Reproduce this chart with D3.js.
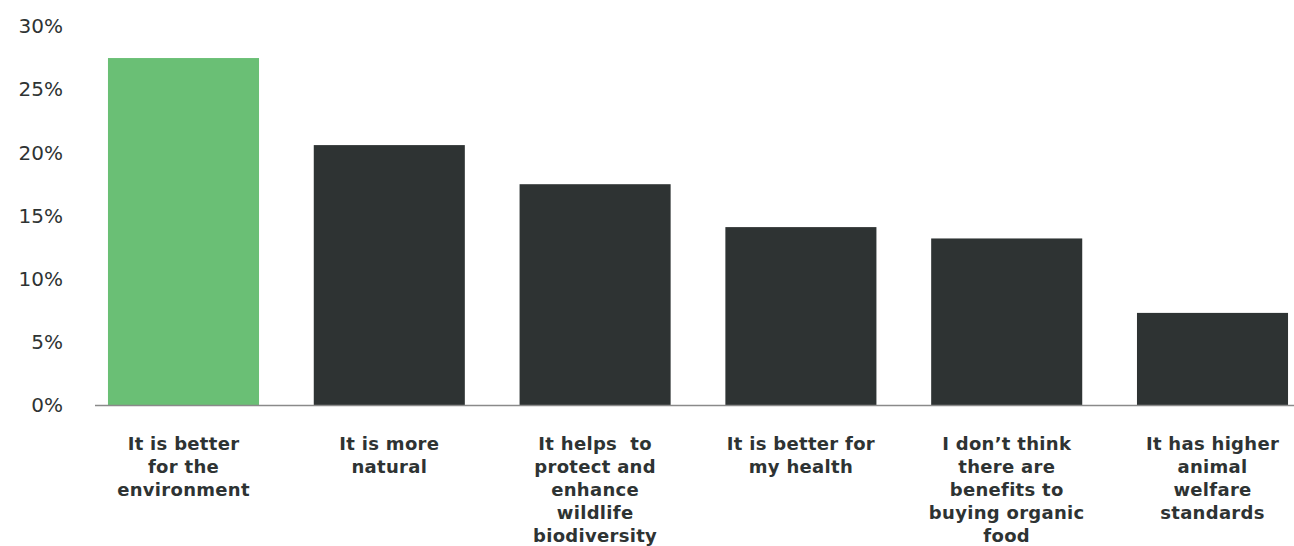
<!DOCTYPE html>
<html>
<head>
<meta charset="utf-8">
<script src="https://cdn.jsdelivr.net/npm/d3@7"></script>
<style>
  html, body { margin: 0; padding: 0; background: #ffffff; }
  svg { display: block; }
  .tick-label { font-family: "DejaVu Sans", sans-serif; font-size: 20px; fill: #2e3333; }
  .cat-label { font-family: "DejaVu Sans", sans-serif; font-size: 18px; font-weight: 700; fill: #2e3333; letter-spacing: 0.3px; white-space: pre; }
</style>
</head>
<body>
<svg id="chart" width="1294" height="546"></svg>
<script>
// Reasons for buying organic food (share of respondents)
const categories = [
  "It is better for the environment",
  "It is more natural",
  "It helps to protect and enhance wildlife biodiversity",
  "It is better for my health",
  "I don’t think there are benefits to buying organic food",
  "It has higher animal welfare standards"
];
const labelLines = [
  ["It is better", "for the", "environment"],
  ["It is more", "natural"],
  ["It helps  to", "protect and", "enhance", "wildlife", "biodiversity"],
  ["It is better for", "my health"],
  ["I don’t think", "there are", "benefits to", "buying organic", "food"],
  ["It has higher", "animal", "welfare", "standards"]
];
const values = [27.5, 20.6, 17.5, 14.1, 13.2, 7.3];
const yTicks = [0, 5, 10, 15, 20, 25, 30];
const highlight = categories[0];

const svg = d3.select("#chart");

const x = d3.scaleBand()
  .domain(categories)
  .range([80.6, 1315.4])
  .paddingInner(0.266)
  .paddingOuter(0.133);

const y = d3.scaleLinear()
  .domain([0, 30])
  .range([405, 26.5]);

// Bars
svg.append("g")
  .selectAll("rect")
  .data(categories)
  .join("rect")
  .attr("x", d => x(d))
  .attr("width", x.bandwidth())
  .attr("y", (d, i) => y(values[i]))
  .attr("height", (d, i) => y(0) - y(values[i]))
  .attr("fill", d => d === highlight ? "#6abf75" : "#2e3333");

// Baseline
svg.append("line")
  .attr("x1", 95).attr("x2", 1294)
  .attr("y1", y(0) + 0.5).attr("y2", y(0) + 0.5)
  .attr("stroke", "#8a8a8a")
  .attr("stroke-width", 1.5);

// Y tick labels
const yAxis = d3.axisLeft(y)
  .tickValues(yTicks)
  .tickFormat(d => d + "%")
  .tickSize(0)
  .tickPadding(0);

const gy = svg.append("g")
  .attr("transform", "translate(63,0)")
  .call(yAxis);
gy.select(".domain").remove();
gy.selectAll("text")
  .attr("class", "tick-label")
  .attr("font-family", null)
  .attr("font-size", null)
  .attr("fill", null);

// Category labels under bars
const labels = svg.append("g")
  .selectAll("text")
  .data(categories)
  .join("text")
  .attr("class", "cat-label")
  .attr("text-anchor", "middle")
  .attr("x", d => x(d) + x.bandwidth() / 2)
  .attr("y", 450);

labels.each(function(d, i) {
  d3.select(this).selectAll("tspan")
    .data(labelLines[i])
    .join("tspan")
    .attr("x", x(d) + x.bandwidth() / 2)
    .attr("dy", (t, j) => j === 0 ? 0 : 23)
    .text(t => t);
});
</script>
</body>
</html>
